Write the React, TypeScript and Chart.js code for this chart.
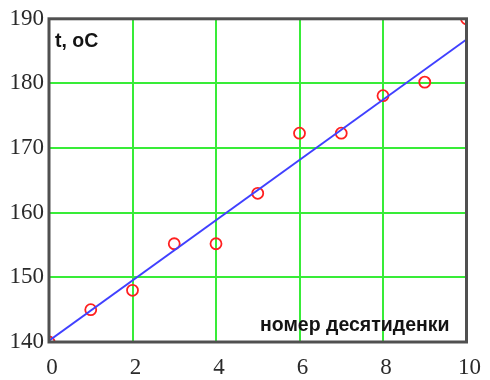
import React, { useEffect, useRef } from "react";
import { Chart, registerables } from "chart.js";

Chart.register(...registerables);

const xValues = [0, 1, 2, 3, 4, 5, 6, 7, 8, 9, 10];
const tValues = [140, 145, 148, 155.2, 155.2, 163, 172.3, 172.3, 178.1, 180.2, 190];
const fitX = [0, 10];
const fitY = [140.2, 186.8];
const yLabel = "t, oC";
const xLabel = "номер десятиденки";

const framePlugin = {
  id: "frameAndLabels",
  afterDatasetsDraw(chart: any) {
    const { ctx, chartArea } = chart;
    ctx.save();
    ctx.strokeStyle = "#505050";
    ctx.lineWidth = 3;
    ctx.strokeRect(chartArea.left, chartArea.top, chartArea.right - chartArea.left, chartArea.bottom - chartArea.top);
    ctx.fillStyle = "#141414";
    ctx.font = "bold 19.5px 'Liberation Sans', Arial, sans-serif";
    ctx.textBaseline = "alphabetic";
    ctx.textAlign = "left";
    ctx.fillText(yLabel, chartArea.left + 6, chartArea.top + 28);
    ctx.textAlign = "right";
    ctx.fillText(xLabel, chartArea.right - 17, chartArea.bottom - 11);
    ctx.restore();
  },
};

export default function App() {
  const ref = useRef<HTMLCanvasElement>(null);
  useEffect(() => {
    document.body.style.margin = "0";
    const chart = new Chart(ref.current!, {
      type: "scatter",
      data: {
        datasets: [
          {
            type: "line",
            data: fitX.map((x, i) => ({ x, y: fitY[i] })),
            borderColor: "#4040ff",
            borderWidth: 2,
            pointRadius: 0,
            showLine: true,
            clip: 0,
          } as any,
          {
            data: xValues.map((x, i) => ({ x, y: tValues[i] })),
            borderColor: "#ff2020",
            backgroundColor: "rgba(0,0,0,0)",
            borderWidth: 1.8,
            pointRadius: 5.5,
            clip: 0,
          } as any,
        ],
      },
      options: {
        responsive: false,
        animation: false,
        layout: { padding: { top: 15, right: 21, left: 0, bottom: 0 } },
        plugins: { legend: { display: false }, tooltip: { enabled: false } },
        scales: {
          x: {
            type: "linear",
            min: 0,
            max: 10,
            ticks: {
              stepSize: 2,
              color: "#2a2a2a",
              font: { family: "'Liberation Serif', 'Times New Roman', serif", size: 23 },
              padding: 12,
              labelOffset: 3,
            },
            grid: { color: "#38ec38", lineWidth: 2, drawTicks: false },
            border: { display: false },
            afterFit(scale: any) {
              scale.height = 38;
            },
          },
          y: {
            type: "linear",
            min: 140,
            max: 190,
            ticks: {
              stepSize: 10,
              color: "#2a2a2a",
              font: { family: "'Liberation Serif', 'Times New Roman', serif", size: 23 },
              padding: 5,
            },
            grid: { color: "#38ec38", lineWidth: 2, drawTicks: false },
            border: { display: false },
            afterFit(scale: any) {
              scale.width = 49;
            },
          },
        },
      },
      plugins: [framePlugin],
    });
    return () => chart.destroy();
  }, []);
  return <canvas ref={ref} width={490} height={380} style={{ display: "block" }} />;
}
